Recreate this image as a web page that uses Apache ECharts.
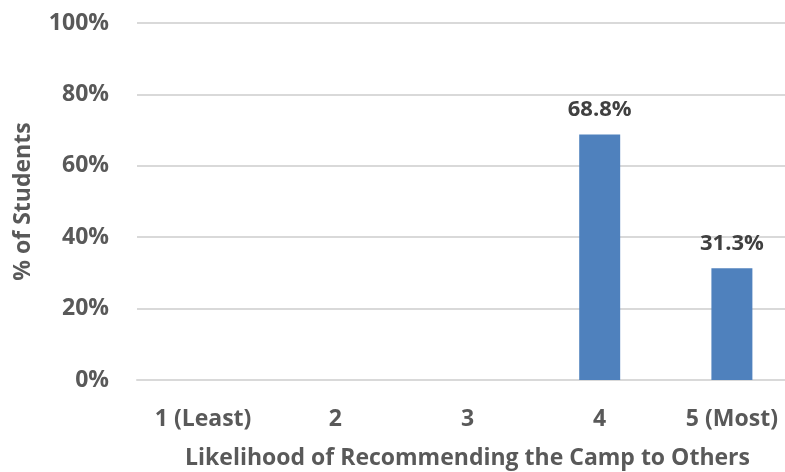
<!DOCTYPE html>
<html>
<head>
<meta charset="utf-8">
<script src="https://cdn.jsdelivr.net/npm/echarts@6/dist/echarts.min.js"></script>
<style>
html,body{margin:0;padding:0;background:#fff;overflow:hidden;}
#chart{width:785px;height:472px;}
</style>
</head>
<body>
<div id="chart"></div>
<script>
const categories = ['1 (Least)', '2', '3', '4', '5 (Most)'];
const percentStudents = [null, null, null, 68.8, 31.3];
const yTicks = [0, 20, 40, 60, 80, 100];

const FONT = 'Open Sans';
const GRAY = '#595959';

const chart = echarts.init(document.getElementById('chart'));
chart.setOption({
  animation: false,
  grid: { left: 137, width: 661, top: 23, height: 357, containLabel: false, outerBoundsMode: 'none' },
  xAxis: {
    type: 'category',
    data: categories,
    name: 'Likelihood of Recommending the Camp to Others',
    nameLocation: 'middle',
    nameGap: 67,
    nameTextStyle: { color: GRAY, fontFamily: FONT, fontWeight: 'bold', fontSize: 23 },
    axisLine: { show: true, lineStyle: { color: '#d9d9d9', width: 2 } },
    axisTick: { show: false },
    axisLabel: { color: GRAY, fontFamily: FONT, fontWeight: 'bold', fontSize: 23, margin: 28 }
  },
  yAxis: {
    type: 'value',
    min: yTicks[0],
    max: yTicks[yTicks.length - 1],
    interval: 20,
    name: '% of Students',
    nameLocation: 'middle',
    nameGap: 102,
    nameTextStyle: { color: GRAY, fontFamily: FONT, fontWeight: 'bold', fontSize: 23 },
    axisLine: { show: false },
    axisTick: { show: false },
    axisLabel: { color: GRAY, fontFamily: FONT, fontWeight: 'bold', fontSize: 23, margin: 28, formatter: v => v + '%' },
    splitLine: { lineStyle: { color: '#d9d9d9', width: 2 } }
  },
  series: [{
    type: 'bar',
    data: percentStudents,
    barWidth: '31%',
    itemStyle: { color: '#4f81bd' },
    label: {
      show: true,
      position: 'top',
      distance: 14,
      color: '#404040',
      fontFamily: FONT,
      fontWeight: 'bold',
      fontSize: 22,
      formatter: p => p.value.toFixed(1) + '%'
    }
  }]
});
</script>
</body>
</html>
